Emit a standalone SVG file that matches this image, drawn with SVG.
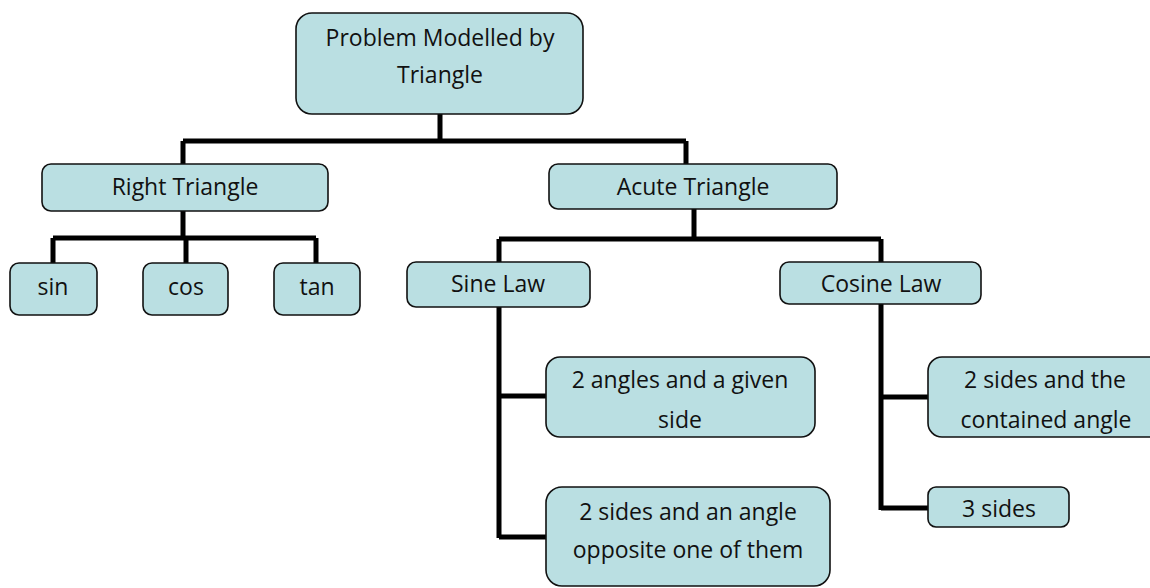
<svg xmlns="http://www.w3.org/2000/svg" width="1150" height="588" viewBox="0 0 1150 588">
<style>
.box{fill:#badfe2;stroke:#111;stroke-width:1.6}
.t{font-family:"Open Sans","Liberation Sans",sans-serif;font-size:23px;fill:#111;text-anchor:middle}
.c{fill:none;stroke:#000;stroke-width:5;stroke-linejoin:miter;stroke-linecap:butt}
</style>
<rect width="1150" height="588" fill="#fff"/>
<g id="connectors">
<path class="c" d="M440 114 V141 M183 141 H686 M183 141 V164 M686 141 V164"/>
<path class="c" d="M183 211 V238 M53 238 H316 M53 238 V263 M186 238 V263 M316 238 V263"/>
<path class="c" d="M694 209 V239 M499 239 H881 M499 239 V262 M881 239 V262"/>
<path class="c" d="M499 307 V538 M499 396 H546 M499 537 H546"/>
<path class="c" d="M881 304 V510 M881 397 H928 M881 508 H928"/>
</g>
<g id="root"><rect class="box" x="296" y="13" width="287" height="101" rx="16"/><text class="t" x="440" y="46">Problem Modelled by</text><text class="t" x="440" y="83">Triangle</text></g>
<g id="right"><rect class="box" x="42" y="164" width="286" height="47" rx="9"/><text class="t" x="185" y="195">Right Triangle</text></g>
<g id="acute"><rect class="box" x="549" y="164" width="288" height="45" rx="9"/><text class="t" x="693" y="195">Acute Triangle</text></g>
<g id="sin"><rect class="box" x="10" y="263" width="87" height="52" rx="9"/><text class="t" x="53" y="295">sin</text></g>
<g id="cos"><rect class="box" x="143" y="263" width="85" height="52" rx="9"/><text class="t" x="186" y="295">cos</text></g>
<g id="tan"><rect class="box" x="274" y="263" width="86" height="52" rx="9"/><text class="t" x="317" y="295">tan</text></g>
<g id="sinelaw"><rect class="box" x="407" y="262" width="183" height="45" rx="9"/><text class="t" x="498" y="292">Sine Law</text></g>
<g id="cosinelaw"><rect class="box" x="780" y="262" width="201" height="42" rx="9"/><text class="t" x="881" y="292">Cosine Law</text></g>
<g id="angles"><rect class="box" x="546" y="357" width="269" height="80" rx="14"/><text class="t" x="680" y="388">2 angles and a given</text><text class="t" x="680" y="428">side</text></g>
<g id="sidesopp"><rect class="box" x="546" y="487" width="284" height="99" rx="16"/><text class="t" x="688" y="520">2 sides and an angle</text><text class="t" x="688" y="558">opposite one of them</text></g>
<g id="contained"><rect class="box" x="928" y="357" width="240" height="80" rx="14"/><text class="t" x="1045" y="388">2 sides and the</text><text class="t" x="1046" y="428">contained angle</text></g>
<g id="three"><rect class="box" x="928" y="487" width="141" height="40" rx="8"/><text class="t" x="999" y="517">3 sides</text></g>
</svg>
